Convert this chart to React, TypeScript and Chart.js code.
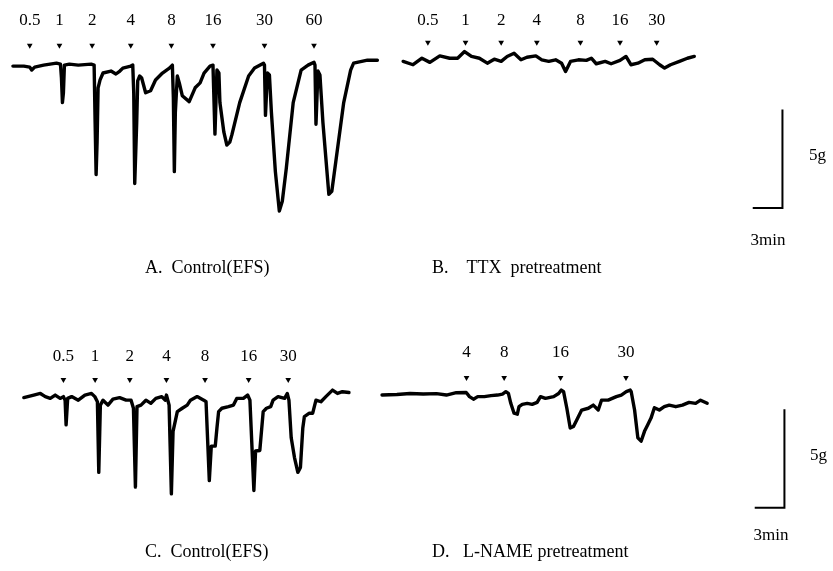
import { useEffect, useRef } from "react";
import { Chart, registerables } from "chart.js";
Chart.register(...registerables);

// ---- Data (time in min, tension change in g) ----
// Panel A: Control (EFS)
const aTime = [0.9, 2.0, 2.6, 2.8, 3.1, 4.0, 5.3, 5.7, 5.8, 5.9, 6.0, 6.1, 6.6, 7.5, 8.8, 9.1, 9.2, 9.3, 9.4, 9.5, 9.7, 10.0, 10.8, 11.3, 11.7, 12.0, 12.8, 13.0, 13.1, 13.2, 13.4, 13.5, 13.7, 13.9, 14.3, 14.8, 15.3, 16.0, 16.7, 17.0, 17.1, 17.2, 17.3, 17.5, 17.7, 18.0, 18.7, 19.3, 19.8, 20.2, 20.8, 21.1, 21.3, 21.5, 21.7, 21.8, 22.2, 22.5, 22.8, 23.0, 23.8, 24.7, 25.3, 26.2, 26.3, 26.4, 26.6, 26.8, 27.0, 27.4, 27.8, 28.1, 28.5, 29.2, 30.0, 30.7, 31.3, 31.4, 31.5, 31.7, 31.9, 32.2, 32.8, 33.1, 33.5, 34.3, 35.0, 35.3, 36.7, 37.7];
const aForce = [-0.05, -0.05, -0.1, -0.25, -0.1, 0, 0.1, 0.05, -0.65, -1.9, -1.4, 0, 0.05, 0, 0.05, 0, -2.9, -5.55, -3.9, -1.15, -0.75, -0.4, -0.3, -0.45, -0.3, -0.15, -0.05, 0, -1.4, -6.0, -2.9, -0.8, -0.55, -0.65, -1.4, -1.3, -0.75, -0.4, -0.15, 0, -1.65, -5.4, -2.4, -0.55, -0.9, -1.55, -1.85, -1.15, -0.9, -0.4, -0.05, 0, -3.5, -0.25, -0.4, -1.9, -3.4, -4.05, -3.9, -3.55, -1.9, -0.55, -0.15, 0.1, 0, -2.55, -0.4, -0.5, -2.4, -5.4, -7.4, -6.9, -5.25, -1.9, -0.25, 0, 0.15, 0, -3.0, -0.3, -0.5, -2.9, -6.55, -6.4, -4.9, -1.9, -0.25, 0.1, 0.25, 0.25];
const aStimTime = [2.6, 5.6, 8.9, 12.8, 16.9, 21.1, 26.3, 31.3];
const aStimHz = ["0.5", "1", "2", "4", "8", "16", "30", "60"];

// Panel B: TTX pretreatment
const bTime = [40.3, 41.3, 42.2, 43.0, 44.0, 45.0, 45.8, 46.5, 47.2, 48.0, 48.8, 49.5, 50.2, 50.8, 51.5, 52.2, 52.8, 53.7, 54.3, 55.0, 55.7, 56.3, 56.7, 57.2, 58.0, 58.8, 59.3, 59.8, 60.7, 61.3, 62.2, 62.8, 63.3, 64.0, 64.7, 65.5, 66.2, 66.7, 67.3, 68.2, 69.0, 69.7];
const bForce = [0.19, 0.02, 0.35, 0.14, 0.47, 0.35, 0.35, 0.69, 0.44, 0.35, 0.1, 0.3, 0.19, 0.44, 0.6, 0.27, 0.4, 0.47, 0.27, 0.19, 0.27, 0.1, -0.32, 0.19, 0.27, 0.24, 0.35, 0.07, 0.19, 0.07, 0.24, 0.44, 0.02, 0.1, 0.27, 0.3, 0.02, -0.15, 0.02, 0.19, 0.35, 0.44];
const bStimTime = [42.8, 46.6, 50.2, 53.8, 58.2, 62.2, 65.9];
const bStimHz = ["0.5", "1", "2", "4", "8", "16", "30"];

// Panel C: Control (EFS)
const cTime = [2.0, 3.0, 3.67, 4.17, 4.67, 5.17, 5.67, 6.0, 6.17, 6.27, 6.43, 6.83, 7.5, 8.17, 8.83, 9.17, 9.43, 9.57, 9.73, 10.0, 10.5, 11.0, 11.67, 12.33, 12.83, 13.07, 13.27, 13.43, 13.83, 14.33, 14.83, 15.33, 15.93, 16.27, 16.4, 16.67, 16.9, 17.07, 17.5, 18.0, 18.5, 18.83, 19.5, 20.17, 20.4, 20.73, 20.93, 21.33, 21.5, 21.67, 22.0, 22.67, 23.17, 23.5, 24.17, 24.6, 24.83, 25.23, 25.4, 25.83, 26.17, 26.5, 26.93, 27.17, 27.67, 28.33, 28.6, 28.77, 29.0, 29.33, 29.67, 29.93, 30.17, 30.33, 30.83, 31.17, 31.5, 32.0, 32.5, 33.17, 33.67, 34.17, 34.83];
const cForce = [0.04, 0.17, 0.25, 0.09, 0, 0.17, 0, 0.09, -0.09, -1.34, 0, 0.09, -0.09, 0.17, 0.25, 0.09, -0.17, -3.75, -0.34, -0.09, -0.34, -0.04, 0.04, -0.09, -0.09, -0.5, -4.5, -0.42, -0.34, -0.09, -0.25, 0, 0.09, -0.09, 0.17, -0.34, -4.84, -1.67, -0.67, -0.5, -0.34, -0.09, 0.09, -0.09, -0.17, -4.17, -2.42, -2.42, -1.5, -0.67, -0.5, -0.42, -0.34, 0, 0, 0.17, -0.09, -4.67, -2.67, -2.64, -0.67, -0.5, -0.42, -0.09, 0.09, 0, 0.25, -0.09, -2.0, -3.0, -3.75, -3.5, -1.5, -0.92, -0.75, -0.75, -0.09, -0.17, 0.09, 0.42, 0.25, 0.34, 0.3];
const cStimTime = [6.0, 9.2, 12.7, 16.4, 20.3, 24.7, 28.7];
const cStimHz = ["0.5", "1", "2", "4", "8", "16", "30"];

// Panel D: L-NAME pretreatment
const dTime = [38.17, 39.67, 41.0, 42.33, 43.67, 44.67, 45.67, 46.67, 47.0, 47.4, 47.83, 48.5, 49.17, 49.83, 50.33, 50.67, 50.93, 51.17, 51.5, 51.83, 52.0, 52.33, 52.83, 53.33, 53.83, 54.17, 54.67, 55.5, 56.0, 56.27, 56.5, 56.83, 57.17, 57.5, 57.83, 58.33, 59.0, 59.5, 60.0, 60.33, 61.0, 61.83, 62.33, 62.83, 63.23, 63.33, 63.67, 64.0, 64.33, 64.67, 65.0, 65.33, 65.67, 66.17, 66.67, 67.17, 67.83, 68.5, 69.17, 69.83, 70.33, 71.0];
const dForce = [0.17, 0.2, 0.25, 0.22, 0.24, 0.17, 0.29, 0.3, 0.09, -0.04, 0.09, 0.09, 0.14, 0.17, 0.22, 0.34, 0.25, -0.25, -0.75, -0.8, -0.42, -0.3, -0.25, -0.3, -0.2, 0.09, 0, 0.09, 0.25, 0.42, 0.34, -0.5, -1.5, -1.42, -1.09, -0.59, -0.5, -0.34, -0.59, -0.09, -0.09, 0.09, 0.17, 0.34, 0.42, 0.34, -0.59, -2.0, -2.17, -1.67, -1.34, -1.0, -0.47, -0.59, -0.42, -0.34, -0.42, -0.34, -0.2, -0.25, -0.09, -0.25];
const dStimTime = [46.7, 50.5, 56.2, 62.8];
const dStimHz = ["4", "8", "16", "30"];

// Calibration bars: 5 g and 3 min
const barForce = 5;
const barMinutes = 3;

// ---- Layout / style ----
const W = 833;
const H = 571;
const FONT = '"Liberation Serif", "DejaVu Serif", serif';

export default function App() {
  const ref = useRef<HTMLCanvasElement | null>(null);

  useEffect(() => {
    if (!ref.current) return;
    const pts = (t: number[], f: number[]) => t.map((x, i) => ({ x, y: f[i] }));
    const line = (t: number[], f: number[], axis: string) => ({
      data: pts(t, f),
      yAxisID: axis,
      showLine: true,
      borderColor: "#000",
      borderWidth: 3.4,
      pointRadius: 0,
      tension: 0,
      borderJoinStyle: "round" as const,
      borderCapStyle: "round" as const,
      clip: false as any,
    });
    const marks = (t: number[], level: number, axis: string) => ({
      data: t.map((x) => ({ x, y: level })),
      yAxisID: axis,
      showLine: false,
      pointStyle: "triangle" as const,
      rotation: 180,
      pointRadius: 3.3,
      backgroundColor: "#000",
      borderColor: "#000",
      borderWidth: 0,
    });
    const bar = (xEnd: number, yTop: number, axis: string) => ({
      data: [
        { x: xEnd, y: yTop },
        { x: xEnd, y: yTop - barForce },
        { x: xEnd - barMinutes, y: yTop - barForce },
      ],
      yAxisID: axis,
      showLine: true,
      borderColor: "#000",
      borderWidth: 2,
      pointRadius: 0,
      tension: 0,
    });

    const labelSets = [
      { t: aStimTime, l: aStimHz, y: 2.25, axis: "yTop" },
      { t: bStimTime, l: bStimHz, y: 2.25, axis: "yTop" },
      { t: cStimTime, l: cStimHz, y: 2.1, axis: "yBot" },
      { t: dStimTime, l: dStimHz, y: 2.35, axis: "yBot" },
    ];

    const textPlugin = {
      id: "texts",
      afterDatasetsDraw(chart: any) {
        const ctx = chart.ctx;
        const xs = chart.scales.x;
        ctx.save();
        ctx.fillStyle = "#000";
        ctx.textBaseline = "middle";
        ctx.textAlign = "center";
        ctx.font = `17px ${FONT}`;
        for (const s of labelSets) {
          const ys = chart.scales[s.axis];
          s.t.forEach((t, i) => {
            ctx.fillText(s.l[i], xs.getPixelForValue(t), ys.getPixelForValue(s.y));
          });
        }
        ctx.textAlign = "left";
        ctx.font = `18px ${FONT}`;
        ctx.fillText("A.  Control(EFS)", 145, 268);
        ctx.fillText("B.    TTX  pretreatment", 432, 268);
        ctx.fillText("C.  Control(EFS)", 145, 552);
        ctx.fillText("D.   L-NAME pretreatment", 432, 552);
        ctx.font = `17px ${FONT}`;
        ctx.fillText("5g", 809, 156);
        ctx.fillText("5g", 810, 456);
        ctx.textAlign = "center";
        ctx.fillText("3min", 768, 241);
        ctx.fillText("3min", 771, 536);
        ctx.restore();
      },
    };

    const chart = new Chart(ref.current, {
      type: "scatter",
      data: {
        datasets: [
          line(aTime, aForce, "yTop"),
          line(bTime, bForce, "yTop"),
          line(cTime, cForce, "yBot"),
          line(dTime, dForce, "yBot"),
          marks(aStimTime, 1.0, "yTop"),
          marks(bStimTime, 1.15, "yTop"),
          marks(cStimTime, 0.95, "yBot"),
          marks(dStimTime, 1.05, "yBot"),
          bar(78.6, -2.25, "yTop"),
          bar(78.8, -0.55, "yBot"),
        ] as any,
      },
      options: {
        responsive: false,
        animation: false,
        layout: { padding: 0 },
        plugins: { legend: { display: false }, tooltip: { enabled: false } },
        events: [],
        scales: {
          x: { type: "linear", min: 0, max: 83.3, display: false },
          yTop: { type: "linear", min: -25.45, max: 3.1, display: false },
          yBot: { type: "linear", min: -8.55, max: 20, display: false },
        },
      },
      plugins: [textPlugin],
    });
    return () => chart.destroy();
  }, []);

  return (
    <div style={{ position: "absolute", left: 0, top: 0, width: W, height: H, background: "#fff" }}>
      <canvas ref={ref} width={W} height={H} style={{ display: "block", width: W, height: H }} />
    </div>
  );
}
